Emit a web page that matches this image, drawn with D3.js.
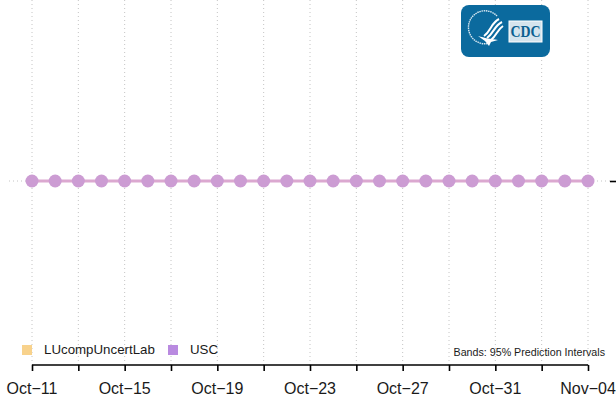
<!DOCTYPE html>
<html>
<head>
<meta charset="utf-8">
<script src="https://cdn.jsdelivr.net/npm/d3@7"></script>
<style>
  html, body { margin: 0; padding: 0; background: #fff; }
  svg { display: block; }
  text { font-family: "Liberation Sans", Arial, sans-serif; fill: #1a1a1a; }
</style>
</head>
<body>
<svg id="chart" width="616" height="398"></svg>
<script>
// Data
var dates = ['2021-10-11', '2021-10-12', '2021-10-13', '2021-10-14', '2021-10-15',
             '2021-10-16', '2021-10-17', '2021-10-18', '2021-10-19', '2021-10-20',
             '2021-10-21', '2021-10-22', '2021-10-23', '2021-10-24', '2021-10-25',
             '2021-10-26', '2021-10-27', '2021-10-28', '2021-10-29', '2021-10-30',
             '2021-10-31', '2021-11-01', '2021-11-02', '2021-11-03', '2021-11-04'];
var uscValues = [0, 0, 0, 0, 0, 0, 0, 0, 0, 0, 0, 0, 0, 0, 0, 0, 0, 0, 0, 0, 0, 0, 0, 0, 0];
var legendNames = ['LUcompUncertLab', 'USC'];
var legendColors = ['#f8d28c', '#b98ae0'];
var yTicks = [0];
var note = 'Bands: 95% Prediction Intervals';

var parseDate = d3.timeParse('%Y-%m-%d');
var formatDate = function(d) { return d3.timeFormat('%b-%d')(d).replace('-', '\u2212'); };
var days = dates.map(parseDate);

var svg = d3.select('#chart');

var x = d3.scaleTime()
    .domain([days[0], days[days.length - 1]])
    .range([32, 588]);
var y = d3.scaleLinear()
    .domain([-1, 1])
    .range([365, -3]);

var gridTicks = days.filter(function(d, i) { return i % 2 === 0; });
var labelTicks = days.filter(function(d, i) { return i % 4 === 0; });

// Dotted grid
svg.append('g').selectAll('line')
    .data(gridTicks)
  .enter().append('line')
    .attr('x1', function(d) { return x(d); })
    .attr('x2', function(d) { return x(d); })
    .attr('y1', 0)
    .attr('y2', 365)
    .attr('stroke', '#c4c4c4')
    .attr('stroke-width', 1)
    .attr('stroke-dasharray', '1 3');
svg.append('g').selectAll('line')
    .data(yTicks)
  .enter().append('line')
    .attr('x1', 9)
    .attr('x2', 610)
    .attr('y1', function(d) { return y(d); })
    .attr('y2', function(d) { return y(d); })
    .attr('stroke', '#c4c4c4')
    .attr('stroke-width', 1)
    .attr('stroke-dasharray', '1 3');

// Right axis tick
svg.append('g')
    .attr('transform', 'translate(610,0)')
    .call(d3.axisRight(y).tickValues(yTicks).tickSize(7).tickFormat(''))
    .call(function(g) { g.select('.domain').remove(); })
    .selectAll('line').attr('stroke', '#000').attr('stroke-width', 1.6);

// Series line and points
var line = d3.line()
    .x(function(d, i) { return x(days[i]); })
    .y(function(d) { return y(d); });
svg.append('path')
    .datum(uscValues)
    .attr('d', line)
    .attr('fill', 'none')
    .attr('stroke', '#dba8d0')
    .attr('stroke-width', 3);
svg.append('g').selectAll('circle')
    .data(uscValues)
  .enter().append('circle')
    .attr('cx', function(d, i) { return x(days[i]); })
    .attr('cy', function(d) { return y(d); })
    .attr('r', 6.5)
    .attr('fill', '#cc9cd3');

// Bottom axis
var xAxis = svg.append('g').attr('transform', 'translate(0,365)');
xAxis.call(d3.axisBottom(x).tickValues(gridTicks).tickSize(6).tickFormat(''))
xAxis.select('.domain').attr('stroke', '#000').attr('stroke-width', 1.6).attr('d', 'M' + x.range()[0] + ',0H' + x.range()[1]);
xAxis.selectAll('.tick line').attr('stroke', '#000').attr('stroke-width', 1.6);
svg.append('g').selectAll('text')
    .data(labelTicks)
  .enter().append('text')
    .attr('x', function(d) { return x(d); })
    .attr('y', 394)
    .attr('text-anchor', 'middle')
    .attr('font-size', 16)
    .text(formatDate);

// Legend
var legendX = [22, 168];
var legend = svg.append('g').selectAll('g')
    .data(legendNames)
  .enter().append('g')
    .attr('transform', function(d, i) { return 'translate(' + legendX[i] + ',345)'; });
legend.append('rect')
    .attr('width', 10)
    .attr('height', 10)
    .attr('fill', function(d, i) { return legendColors[i]; });
legend.append('text')
    .attr('x', 22)
    .attr('y', 9)
    .attr('font-size', 13.3)
    .text(function(d) { return d; });

svg.append('text')
    .attr('x', 605)
    .attr('y', 356)
    .attr('text-anchor', 'end')
    .attr('font-size', 10.7)
    .text(note);

// HHS / CDC logo
var logo = svg.append('g').attr('transform', 'translate(461,5)');
logo.append('rect').attr('width', 89).attr('height', 52).attr('rx', 8).attr('fill', '#0b6a9e');
// seal ring, open on the right
logo.append('path')
    .attr('d', 'M36,11 A16.5,16.5 0 1 0 27,38.5')
    .attr('fill', 'none')
    .attr('stroke', '#d8e8f2')
    .attr('stroke-width', 1.4)
    .attr('stroke-dasharray', '1.5 0.7');
// eagle stripes
['M38,14 C30,18 30,26 23,31', 'M41,17 C33,21 33,28 26,33', 'M42,21 C36,25 36,30 30,35'].forEach(function(d) {
  logo.append('path')
      .attr('d', d)
      .attr('fill', 'none')
      .attr('stroke', '#fff')
      .attr('stroke-width', 2);
});
logo.append('path')
    .attr('d', 'M17,31 C24,33 29,34 37,35 L30,37 L28,41 L24,36 Z')
    .attr('fill', '#fff');
logo.append('rect')
    .attr('x', 48).attr('y', 16).attr('width', 33).attr('height', 21)
    .attr('fill', '#d5e4ed').attr('stroke', '#fff').attr('stroke-width', 1);
logo.append('text')
    .attr('x', 64.5).attr('y', 31.5)
    .attr('text-anchor', 'middle')
    .attr('font-weight', 'bold')
    .attr('font-size', 17.5)
    .attr('textLength', 30)
    .attr('lengthAdjust', 'spacingAndGlyphs')
    .style('font-family', '"Liberation Serif", serif')
    .style('fill', '#0b5f90')
    .text('CDC');
</script>
</body>
</html>
